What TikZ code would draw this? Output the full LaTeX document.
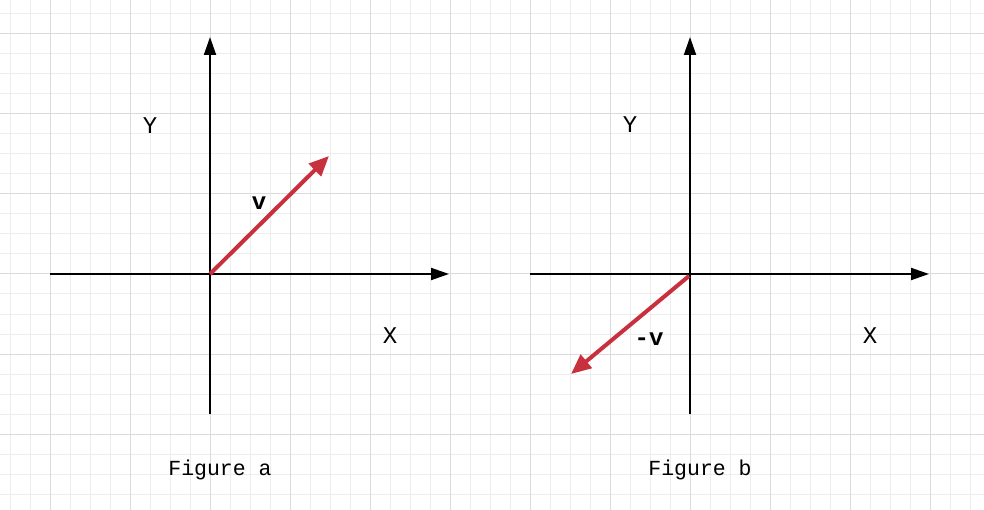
\documentclass[tikz,border=0pt]{standalone}
\usepackage{fontspec}
\setmainfont{Liberation Sans}
\newfontfamily\plotmono{Liberation Mono}
\usetikzlibrary{arrows.meta}
\definecolor{vecred}{HTML}{C9303E}
\definecolor{gridminor}{HTML}{EDEDED}
\definecolor{gridmajor}{HTML}{DBDBDB}

\begin{document}
\begin{tikzpicture}[
    x=1pt, y=-1pt,
    axis/.style={
        draw=black, line width=2pt,
        -{Triangle[length=18pt, width=12pt]}
    },
    vec/.style={
        draw=vecred, line width=4pt,
        -{Triangle[length=20pt, width=17pt]}
    },
    axlabel/.style={font=\plotmono\fontsize{24}{24}\selectfont, inner sep=0pt},
    veclabel/.style={font=\plotmono\bfseries\fontsize{24}{24}\selectfont, inner sep=0pt},
    caption/.style={font=\plotmono\fontsize{21.5}{21.5}\selectfont, inner sep=0pt},
]
\useasboundingbox (0,0) rectangle (984,510);
\fill[white] (0,0) rectangle (984,510);

% ---- background grid ----
\foreach \gx in {10,30,...,990}
    \draw[gridminor, line width=1pt] (\gx,0) -- (\gx,510);
\foreach \gy in {14,34,...,510}
    \draw[gridminor, line width=1pt] (0,\gy) -- (984,\gy);
\foreach \gx in {50,130,...,990}
    \draw[gridmajor, line width=1pt] (\gx,0) -- (\gx,510);
\foreach \gy in {34,114,...,510}
    \draw[gridmajor, line width=1pt] (0,\gy) -- (984,\gy);

% ---- figure a ----
\coordinate (oa)  at (210,274);
\coordinate (xaL) at (50,274);
\coordinate (xaR) at (449,274);
\coordinate (yaB) at (210,414);
\coordinate (yaT) at (210,37);
\coordinate (va)  at (329,156);

\draw[axis] (xaL) -- (xaR);
\draw[axis] (yaB) -- (yaT);
\draw[vec] (oa) -- (va);

\node[axlabel] (ya label) at (150,126) {Y};
\node[axlabel] (xa label) at (390,336) {X};
\node[veclabel] (va label) at (259,203) {v};
\node[caption] (cap a) at (220,470) {Figure a};

% ---- figure b ----
\coordinate (ob)  at (689,276);
\coordinate (xbL) at (530,274);
\coordinate (xbR) at (929,274);
\coordinate (ybB) at (690,414);
\coordinate (ybT) at (690,37);
\coordinate (vb)  at (571,374);

\draw[axis] (xbL) -- (xbR);
\draw[axis] (ybB) -- (ybT);
\draw[vec] (ob) -- (vb);

\node[axlabel] (yb label) at (630,125) {Y};
\node[axlabel] (xb label) at (870,336) {X};
\node[veclabel] (vb label) at (649,339) {-v};
\node[caption] (cap b) at (700,470) {Figure b};

\end{tikzpicture}
\end{document}
